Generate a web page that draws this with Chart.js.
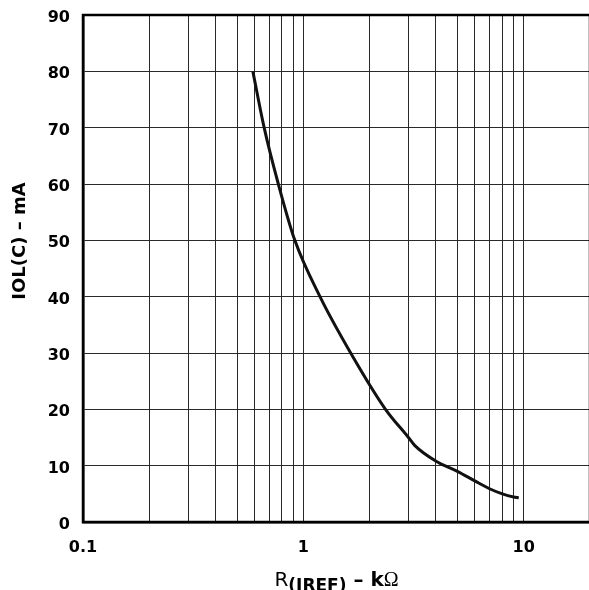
<!DOCTYPE html>
<html>
<head>
<meta charset="utf-8">
<script src="https://cdn.jsdelivr.net/npm/chart.js@4.4.0/dist/chart.umd.min.js"></script>
<style>
  html, body { margin: 0; padding: 0; background: #fff; overflow: hidden; }
  #wrap { width: 589px; height: 590px; overflow: hidden; }
  canvas { display: block; }
</style>
</head>
<body>
<div id="wrap"><canvas id="chart" width="600" height="590"></canvas></div>
<script>
// R(IREF) en kOhm et courant IOL(C) en mA
const resistance = [0.59, 0.664, 0.77, 0.915, 1.19, 1.64, 2.36, 3.0, 3.2, 4.0, 5.0, 6.0, 7.0, 8.0, 9.0, 9.5];
const current = [80, 70, 60, 50, 40, 30, 20, 15, 13.6, 10.8, 9.0, 7.3, 5.9, 5.0, 4.45, 4.3];

// Lignes de grille et étiquettes
const xGridValues = [0.1, 0.2, 0.3, 0.4, 0.5, 0.6, 0.7, 0.8, 0.9, 1, 2, 3, 4, 5, 6, 7, 8, 9, 10, 20];
const xTickLabels = { 0.1: '0.1', 1: '1', 10: '10' };
const yMin = 0;
const yMax = 90;
const yStep = 10;

const FONT = '"DejaVu Sans", "Liberation Sans", Arial, sans-serif';

// Cadre épais autour de la zone de tracé
const framePlugin = {
    id: 'frame',
    afterDatasetsDraw(chart) {
        const a = chart.chartArea;
        const ctx = chart.ctx;
        ctx.save();
        ctx.strokeStyle = '#000';
        ctx.lineWidth = 2.5;
        ctx.strokeRect(a.left, a.top, a.right - a.left, a.bottom - a.top);
        ctx.restore();
    }
};

// Titres des axes avec indices
const titlePlugin = {
    id: 'axisTitles',
    afterDraw(chart) {
        const ctx = chart.ctx;
        const a = chart.chartArea;
        ctx.save();
        ctx.fillStyle = '#000';
        ctx.textBaseline = 'alphabetic';

        // Titre X : R(IREF) – kΩ
        const parts = [
            { text: 'R', font: '20px ' + FONT, dy: 0 },
            { text: '(IREF)', font: 'bold 17px ' + FONT, dy: 5 },
            { text: ' – k', font: 'bold 20px ' + FONT, dy: 0 },
            { text: 'Ω', font: '20px "Liberation Serif", serif', dy: 0 }
        ];
        let total = 0;
        parts.forEach(p => { ctx.font = p.font; p.w = ctx.measureText(p.text).width; total += p.w; });
        let x = (a.left + a.right) / 2 - total / 2;
        const baseY = 586;
        parts.forEach(p => {
            ctx.font = p.font;
            ctx.textAlign = 'left';
            ctx.fillText(p.text, x, baseY + p.dy);
            x += p.w;
        });

        // Titre Y : IOL(C) – mA
        ctx.font = 'bold 18px ' + FONT;
        ctx.translate(25, 241);
        ctx.rotate(-Math.PI / 2);
        ctx.textAlign = 'center';
        ctx.fillText('IOL(C) – mA', 0, 0);
        ctx.restore();
    }
};

function noPadding(scale) {
    scale.paddingTop = 0;
    scale.paddingBottom = 0;
    scale.paddingLeft = 0;
    scale.paddingRight = 0;
}

const ctx = document.getElementById('chart').getContext('2d');
new Chart(ctx, {
    type: 'line',
    data: {
        datasets: [{
            data: resistance.map((r, i) => ({ x: r, y: current[i] })),
            borderColor: '#111',
            borderWidth: 3,
            pointRadius: 0,
            fill: false,
            cubicInterpolationMode: 'monotone'
        }]
    },
    options: {
        responsive: false,
        devicePixelRatio: 1,
        animation: false,
        layout: { padding: { top: 15, right: 10, left: 0, bottom: 0 } },
        plugins: {
            legend: { display: false },
            tooltip: { enabled: false }
        },
        scales: {
            x: {
                type: 'logarithmic',
                min: 0.1,
                max: 20,
                afterBuildTicks(scale) {
                    scale.ticks = xGridValues.map(v => ({ value: v }));
                },
                afterFit(scale) {
                    scale.height = 68;
                    noPadding(scale);
                },
                grid: { color: '#2a2a2a', lineWidth: 1, drawTicks: false },
                border: { display: true, color: '#000', width: 2.5 },
                ticks: {
                    autoSkip: false,
                    maxRotation: 0,
                    padding: 16,
                    color: '#000',
                    font: { family: FONT, size: 16, weight: 'bold' },
                    callback(value) {
                        return xTickLabels[value] || '';
                    }
                }
            },
            y: {
                min: yMin,
                max: yMax,
                afterFit(scale) {
                    scale.width = 83;
                    noPadding(scale);
                },
                grid: { color: '#2a2a2a', lineWidth: 1, drawTicks: false },
                border: { display: true, color: '#000', width: 2.5 },
                ticks: {
                    stepSize: yStep,
                    padding: 13,
                    labelOffset: 3,
                    color: '#000',
                    font: { family: FONT, size: 16, weight: 'bold' }
                }
            }
        }
    },
    plugins: [framePlugin, titlePlugin]
});
</script>
</body>
</html>
